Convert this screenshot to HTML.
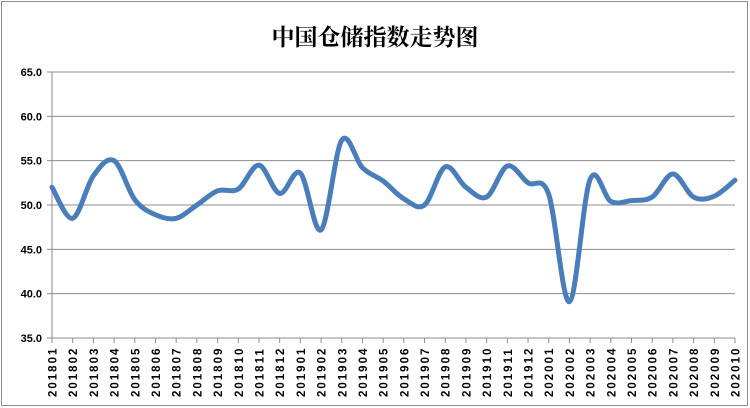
<!DOCTYPE html>
<html><head><meta charset="utf-8"><style>
html,body{margin:0;padding:0;background:#fff;}
svg{display:block;}
</style></head><body>
<svg id="s" width="750" height="408" xmlns="http://www.w3.org/2000/svg">
<rect x="1.5" y="1.5" width="746" height="404" fill="#fff" stroke="#8c8c8c" stroke-width="1"/>
<text x="375" y="45" text-anchor="middle" font-family="'Noto Serif CJK SC','Noto Sans CJK SC',serif" font-weight="bold" font-size="23" fill="#000">中国仓储指数走势图</text>
<g id="g"></g>
</svg>
<script>
var vals=[52.0,48.5,53.3,55.0,50.6,48.9,48.5,50.0,51.6,51.8,54.5,51.3,53.6,47.2,57.3,54.2,52.7,50.7,50.0,54.3,52.0,50.9,54.4,52.5,51.2,39.1,52.9,50.4,50.5,50.9,53.5,50.9,51.0,52.8];
var x0=52,x1=735,y65=72,y35=338,n=vals.length,dx=(x1-x0)/(n-1);
function Y(v){return y65+(65-v)*(y35-y65)/30;}
var h='';
for(var v=35;v<=65;v+=5){var y=Y(v);
 if(v>35)h+='<line x1="'+x0+'" x2="'+x1+'" y1="'+y+'" y2="'+y+'" stroke="#8c8c8c" stroke-width="1"/>';
 h+='<line x1="47" x2="'+x0+'" y1="'+y+'" y2="'+y+'" stroke="#8c8c8c"/>';
 h+='<text x="42" y="'+(y+4)+'" text-anchor="end" font-family="Liberation Sans,sans-serif" font-weight="bold" font-size="11">'+v.toFixed(1)+'</text>';}
h+='<line x1="'+x0+'" x2="'+x0+'" y1="'+y65+'" y2="'+y35+'" stroke="#8c8c8c"/>';
h+='<line x1="'+x0+'" x2="'+x1+'" y1="'+y35+'" y2="'+y35+'" stroke="#8c8c8c"/>';
var labs=[];for(var i=0;i<n;i++){var yr=2018+Math.floor(i/12),m=i%12+1;labs.push(yr+(m<10?'0':'')+m);}
for(var i=0;i<n;i++){var x=x0+i*dx;
 h+='<line x1="'+x+'" x2="'+x+'" y1="'+y35+'" y2="'+(y35+5)+'" stroke="#8c8c8c"/>';
 h+='<text transform="translate('+(x+4.5)+',397) rotate(-90)" font-family="Liberation Sans,sans-serif" font-weight="bold" font-size="11.5" letter-spacing="2">'+labs[i]+'</text>';}
var P=vals.map(function(v,i){return [x0+i*dx,Y(v)];});
var d='M'+P[0][0]+','+P[0][1];
for(var i=0;i<n-1;i++){var p0=P[i-1]||P[i],p1=P[i],p2=P[i+1],p3=P[i+2]||P[i+1];
 var c1=[p1[0]+(p2[0]-p0[0])/6,p1[1]+(p2[1]-p0[1])/6];
 var c2=[p2[0]-(p3[0]-p1[0])/6,p2[1]-(p3[1]-p1[1])/6];
 d+=' C'+c1[0]+','+c1[1]+' '+c2[0]+','+c2[1]+' '+p2[0]+','+p2[1];}
h+='<path d="'+d+'" fill="none" stroke="#4a7ebb" stroke-width="5" stroke-linecap="round" stroke-linejoin="round"/>';
document.getElementById('g').innerHTML=h;
</script>
</body></html>
